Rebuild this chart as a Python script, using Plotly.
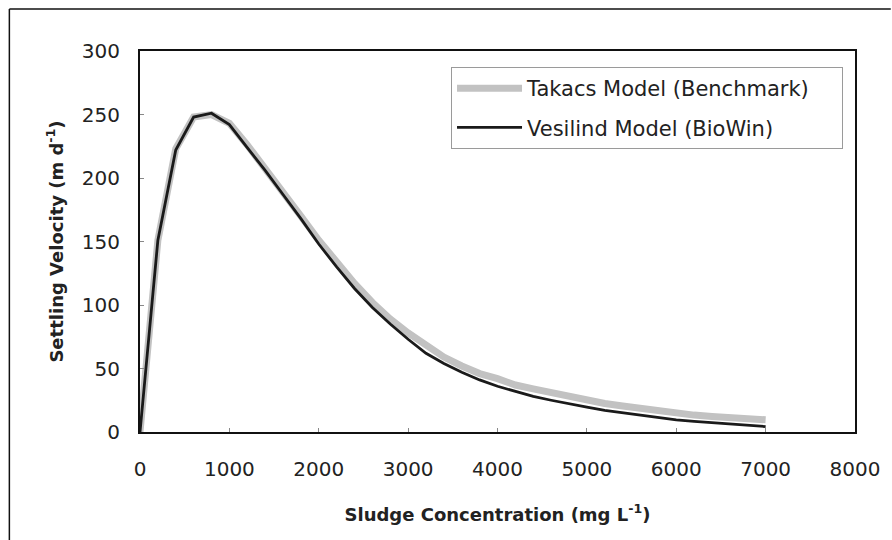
import plotly.graph_objects as go

# Sludge concentration (mg/L)
conc = [0, 200, 400, 600, 800, 1000, 1200, 1400, 1600, 1800, 2000, 2200, 2400,
        2600, 2800, 3000, 3200, 3400, 3600, 3800, 4000, 4200, 4400, 4600, 4800,
        5000, 5200, 5400, 5600, 5800, 6000, 6200, 6400, 6600, 6800, 7000]

# Settling velocity (m/d)
takacs = [0, 151, 223, 248, 250, 243, 226, 208, 189, 170, 151, 133, 117,
          102, 89, 78, 68, 59, 52, 46, 42, 37, 34, 31, 28,
          25, 22.5, 20.5, 18.5, 16.5, 14.5, 13.3, 12.2, 11.2, 10.4, 9.6]
vesilind = [0, 151, 222, 248, 251, 242, 224, 206, 187, 168, 148, 130, 113,
            98, 85, 73, 62, 54, 47, 41, 36, 32, 28, 25, 22,
            19.5, 17, 15, 13, 11, 9.5, 8.3, 7.2, 6.2, 5.2, 4.3]

x_ticks = [0, 1000, 2000, 3000, 4000, 5000, 6000, 7000, 8000]
y_ticks = [0, 50, 100, 150, 200, 250, 300]

FONT = "DejaVu Sans"
TXT = "#222222"
PAD = "\u00a0" * 4

fig = go.Figure()
fig.add_trace(go.Scatter(x=conc, y=takacs, mode="lines", name="Takacs Model (Benchmark)" + PAD,
                         legendgroup="a",
                         line=dict(color="#c2c2c2", width=7)))
fig.add_trace(go.Scatter(x=conc, y=vesilind, mode="lines", name="Vesilind Model (BioWin)",
                         legendgroup="b",
                         line=dict(color="#1a1a1a", width=2.8)))

axis_common = dict(
    showgrid=False, zeroline=False, showline=True, mirror=True,
    linecolor="#111111", linewidth=2, ticks="inside", ticklen=4, tickwidth=1,
    tickcolor="#888888", tickfont=dict(family=FONT, size=20, color=TXT),
)

fig.update_xaxes(range=[0, 8000], tickvals=x_ticks, ticktext=[str(v) for v in x_ticks],
                 ticklabelstandoff=18,
                 title=dict(text="<b>Sludge Concentration (mg L<sup>-1</sup>)</b>",
                            font=dict(family=FONT, size=18, color=TXT), standoff=28),
                 **axis_common)
fig.update_yaxes(range=[0, 300], tickvals=y_ticks, ticktext=[str(v) for v in y_ticks],
                 ticklabelstandoff=14,
                 title=dict(text="<b>Settling Velocity (m d<sup>-1</sup>)</b>",
                            font=dict(family=FONT, size=18, color=TXT), standoff=14),
                 **axis_common)

fig.update_layout(
    width=892, height=540,
    margin=dict(l=140, r=35, t=51, b=108),
    paper_bgcolor="white", plot_bgcolor="white",
    font=dict(family=FONT, color=TXT),
    legend=dict(x=0.435, y=0.958, xanchor="left", yanchor="top",
                bordercolor="#9a9a9a", borderwidth=1, bgcolor="white",
                font=dict(family=FONT, size=21, color=TXT),
                tracegroupgap=9, itemwidth=65),
    showlegend=True,
    shapes=[
        dict(type="line", xref="paper", yref="paper", x0=-0.1827, x1=1.05, y0=1.1102, y1=1.1102,
             line=dict(color="#111111", width=1.5)),
        dict(type="line", xref="paper", yref="paper", x0=-0.1827, x1=-0.1827, y0=-0.29, y1=1.1102,
             line=dict(color="#111111", width=1.5)),
    ],
)

fig.write_html("out.html")
